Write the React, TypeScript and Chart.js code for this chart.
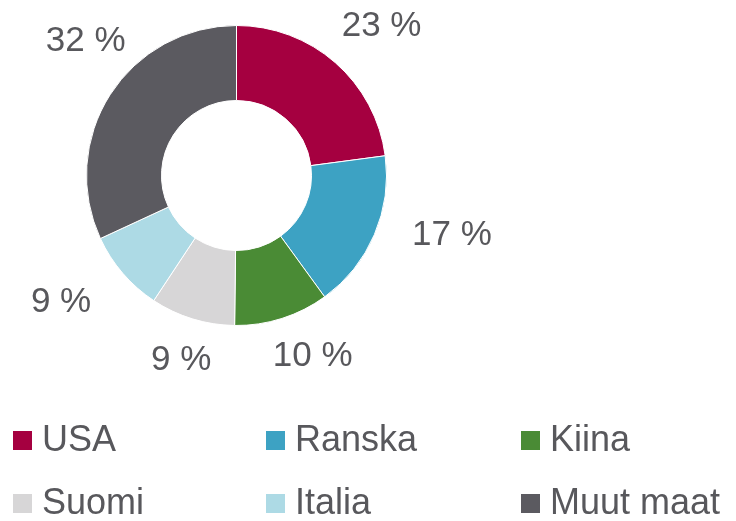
import React, { useEffect, useRef } from "react";
import { Chart, registerables } from "chart.js";

Chart.register(...registerables);

const categories = ["USA", "Ranska", "Kiina", "Suomi", "Italia", "Muut maat"];
const shares = [22.9, 17.1, 10.2, 9.1, 8.8, 31.9];
const percentLabels = ["23 %", "17 %", "10 %", "9 %", "9 %", "32 %"];
const colors = ["#A50040", "#3DA2C3", "#4A8B35", "#D7D6D7", "#ADDAE5", "#5B5A60"];

const TEXT_COLOR = "#58585C";
const FONT = '"Liberation Sans", Arial, sans-serif';

const labelPlugin = {
  id: "outsideLabels",
  afterDatasetsDraw(chart: any, _args: any, opts: any) {
    const ctx = chart.ctx;
    const meta = chart.getDatasetMeta(0);
    ctx.save();
    ctx.fillStyle = TEXT_COLOR;
    ctx.font = `35px ${FONT}`;
    ctx.textAlign = "center";
    ctx.textBaseline = "alphabetic";
    meta.data.forEach((arc: any, i: number) => {
      const p = arc.getProps(["x", "y", "startAngle", "endAngle", "outerRadius"], true);
      const mid = (p.startAngle + p.endAngle) / 2;
      const r = p.outerRadius + opts.gap;
      const n = opts.nudges[i] || [0, 0];
      const cx = p.x + Math.cos(mid) * r + n[0];
      const cy = p.y + Math.sin(mid) * r + n[1];
      ctx.fillText(percentLabels[i], cx, cy + 12.5);
    });
    ctx.restore();
  },
};

const legendPlugin = {
  id: "gridLegend",
  afterDraw(chart: any, _args: any, opts: any) {
    const ctx = chart.ctx;
    ctx.save();
    ctx.font = `36px ${FONT}`;
    ctx.textAlign = "left";
    ctx.textBaseline = "alphabetic";
    categories.forEach((name, i) => {
      const col = i % opts.columns.length;
      const row = Math.floor(i / opts.columns.length);
      const x = opts.columns[col];
      const base = opts.rows[row];
      const s = opts.box;
      ctx.fillStyle = colors[i];
      ctx.fillRect(x, base - s - 1, s, s);
      ctx.fillStyle = TEXT_COLOR;
      ctx.fillText(name, x + s + 10, base);
    });
    ctx.restore();
  },
};

export default function App() {
  const ref = useRef<HTMLCanvasElement | null>(null);
  useEffect(() => {
    document.body.style.margin = "0";
    const canvas = ref.current!;
    const chart = new Chart(canvas, {
      type: "doughnut",
      data: {
        labels: categories,
        datasets: [
          {
            data: shares,
            backgroundColor: colors,
            borderColor: "#ffffff",
            borderWidth: 1,
          },
        ],
      },
      options: {
        responsive: false,
        animation: false,
        cutout: "50%",
        layout: { padding: { left: 86, right: 349, top: 25, bottom: 195 } },
        plugins: {
          legend: { display: false },
          tooltip: { enabled: false },
          outsideLabels: {
            gap: 55,
            nudges: [
              [10, 2],
              [27, -24],
              [14, -17],
              [5, -14],
              [-20, -10],
              [22, -27],
            ],
          },
          gridLegend: {
            columns: [13, 266, 521],
            rows: [451, 514],
            box: 19,
          },
        } as any,
      },
      plugins: [labelPlugin, legendPlugin],
    });
    return () => chart.destroy();
  }, []);
  return (
    <div style={{ width: 736, height: 521, background: "#fff" }}>
      <canvas ref={ref} width={736} height={521} style={{ display: "block" }} />
    </div>
  );
}
